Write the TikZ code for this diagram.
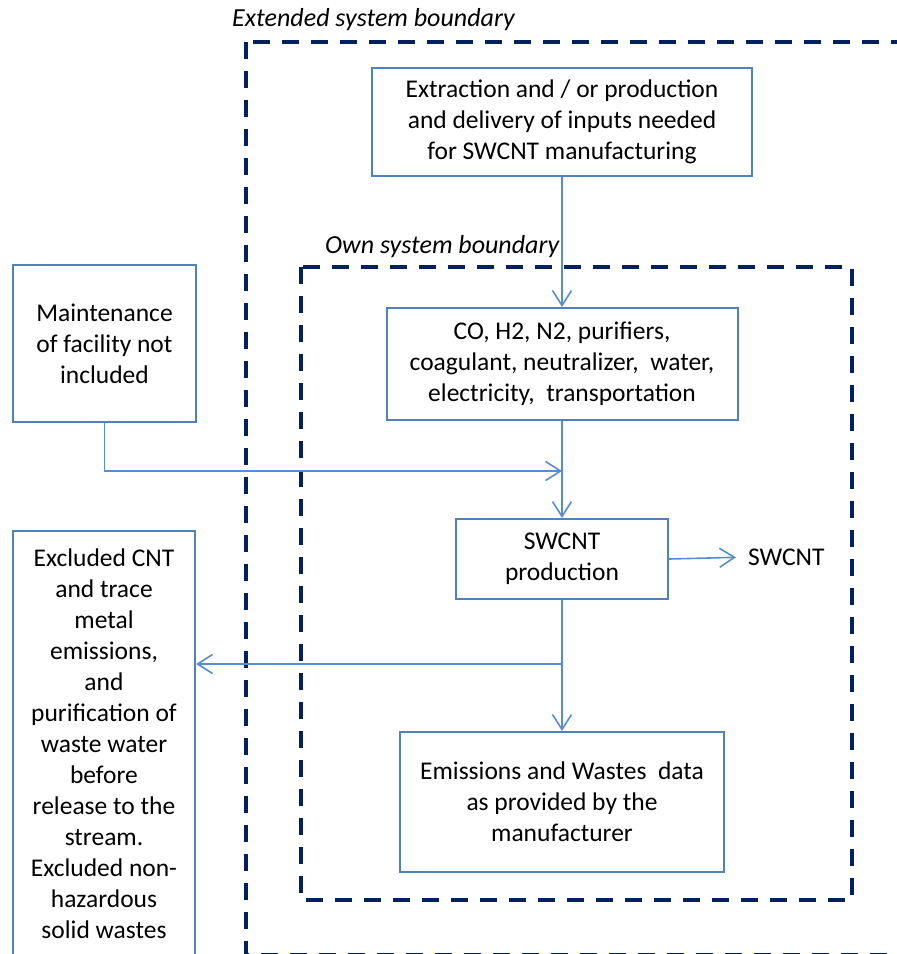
\documentclass[tikz,border=0pt]{standalone}
\usepackage{fontspec}
\setmainfont{Carlito}
\usetikzlibrary{arrows.meta}
\definecolor{boxblue}{RGB}{79,129,189}
\definecolor{arrblue}{RGB}{84,141,212}
\definecolor{bndnavy}{RGB}{0,32,96}
\tikzset{
  % process boxes
  procbox/.style   = {draw=boxblue, line width=2pt, fill=white, align=center,
                      inner sep=0pt, font=\fontsize{25.5}{31}\selectfont},
  % flow connectors
  flowline/.style  = {draw=arrblue, line width=1.6pt},
  flowarrow/.style = {flowline, -{Straight Barb[length=15pt,width=19pt,line width=1.6pt]}},
  % system boundaries
  bndline/.style   = {draw=bndnavy, line width=4.5pt, dash pattern=on 17pt off 12pt},
  % labels
  bndlabel/.style  = {font=\fontsize{26}{30}\selectfont\itshape, inner sep=0pt, anchor=west},
  outlabel/.style  = {font=\fontsize{25.5}{30}\selectfont, inner sep=0pt, anchor=west},
}

\begin{document}
\begin{tikzpicture}[x=1pt,y=-1pt]
  \useasboundingbox (0,0) rectangle (897,954);
  % Boundaries
  \draw[bndline] (246,42) rectangle (925,955.5);
  \node[bndlabel] (extlab) at (232,20) {Extended system boundary};
  \draw[bndline] (301,267) rectangle (852,900);
  \node[bndlabel] (ownlab) at (325,247) {Own system boundary};
  % Boxes
  \node[procbox, minimum width=380pt, minimum height=108pt] (extract) at (562,122)
    {Extraction and / or production\\and delivery of inputs needed\\for SWCNT manufacturing};
  \node[procbox, minimum width=183pt, minimum height=157pt] (maint) at (104.5,343.5)
    {Maintenance\\of facility not\\included};
  \node[procbox, minimum width=351pt, minimum height=112pt] (inputs) at (562,364)
    {CO, H2, N2, purifiers,\\coagulant, neutralizer,\ \ water,\\electricity,\ \ transportation};
  \node[procbox, minimum width=212pt, minimum height=80pt] (prod) at (562,559)
    {SWCNT\\production};
  \node[procbox, minimum width=324pt, minimum height=140pt] (emis) at (562,802)
    {Emissions and Wastes\ \ data\\as provided by the\\manufacturer};
  \node[procbox, minimum width=182pt, minimum height=425pt] (excl) at (104,743.5)
    {Excluded CNT\\and trace\\metal\\emissions,\\and\\purification of\\waste water\\before\\release to the\\stream.\\Excluded non-\\hazardous\\solid wastes};
  \node[outlabel] (swout) at (748,557) {SWCNT};
  % Connectors
  \coordinate (mjoin) at (562,471);
  \coordinate (split) at (562,664);
  \draw[flowarrow] (extract.south) -- (inputs.north);
  \draw[flowarrow] (maint.south) |- (mjoin);
  \draw[flowarrow] (inputs.south) -- (prod.north);
  \draw[flowarrow, shorten >=12pt] (prod.east) -- (swout.west);
  \draw[flowarrow] (prod.south) -- (emis.north);
  \draw[flowarrow] (split) -- (split -| excl.east);
\end{tikzpicture}
\end{document}
